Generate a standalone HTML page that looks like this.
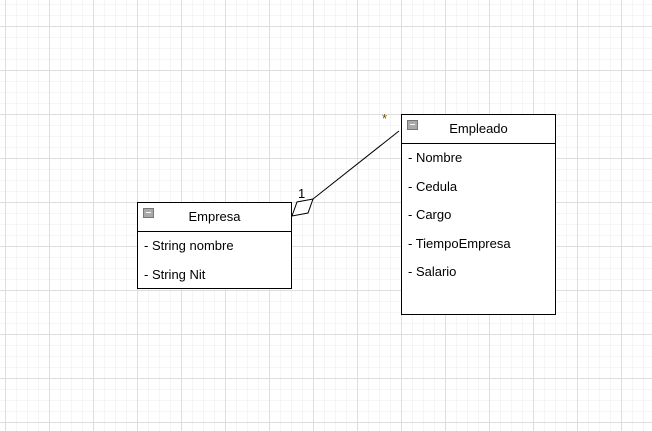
<html><head><style>
body{margin:0;width:652px;height:431px;overflow:hidden;background:#fff;
background-image:linear-gradient(#dedede 1px,transparent 1px),linear-gradient(90deg,#dedede 1px,transparent 1px),linear-gradient(#f5f5f5 1px,transparent 1px),linear-gradient(90deg,#f5f5f5 1px,transparent 1px);
background-size:44px 44px,44px 44px,11px 11px,11px 11px;background-position:5px 26px,5px 26px,5px 4px,5px 4px;
font-family:"Liberation Sans",sans-serif;font-size:13px;color:#000}
.b{position:absolute;border:1px solid #000;background:#fff;box-sizing:border-box}
.h{height:28px;border-bottom:1px solid #000;text-align:center;line-height:28px;position:relative}
.h i{position:absolute;left:5px;top:5px;width:9px;height:8px;background:#aaa;border:1px solid #777}
.h i:after{content:"";position:absolute;left:2px;top:3px;width:5px;height:1px;background:#fff}
.a{padding-left:6px;height:28.6px;line-height:28.6px}
</style></head><body>
<svg width="652" height="431" style="position:absolute;left:0;top:0">
<line x1="313" y1="199" x2="399" y2="131" stroke="#000"/>
<polygon points="292,216 297,202 313,199 308,213" fill="#fff" stroke="#000"/>
<text x="298" y="198" font-family="Liberation Sans" font-size="13">1</text>
<text x="382" y="123" font-family="Liberation Sans" font-size="13" fill="#7a4a00">*</text>
</svg>
<div class="b" style="left:137px;top:202px;width:155px;height:87px"><div class="h"><i></i>Empresa</div>
<div class="a">- String nombre</div><div class="a">- String Nit</div></div>
<div class="b" style="left:401px;top:114px;width:155px;height:201px"><div class="h"><i></i>Empleado</div>
<div class="a">- Nombre</div><div class="a">- Cedula</div><div class="a">- Cargo</div><div class="a">- TiempoEmpresa</div><div class="a">- Salario</div></div>
</body></html>
